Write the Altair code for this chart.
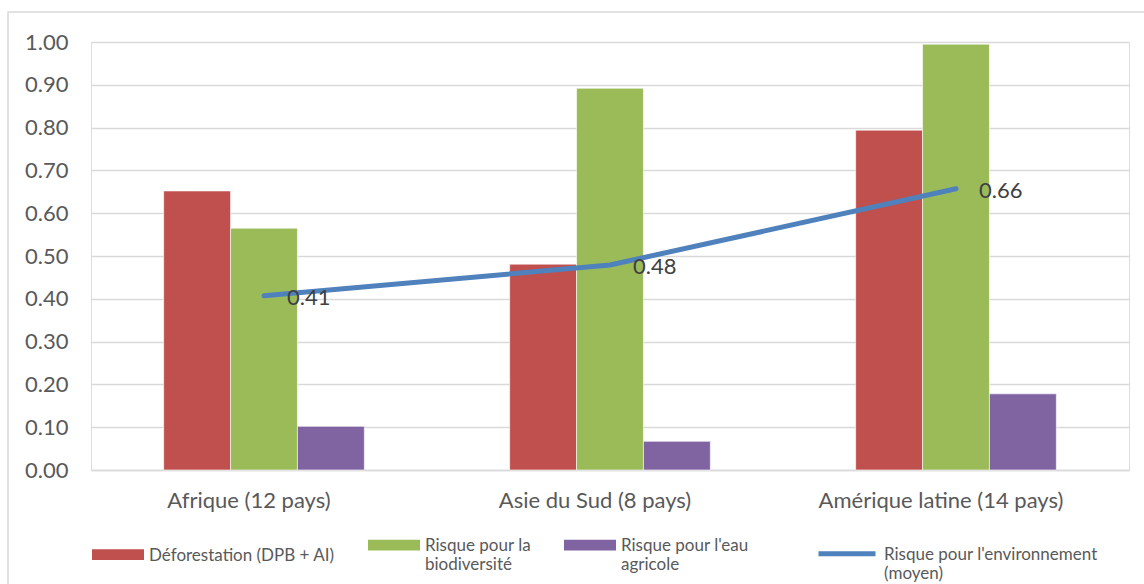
import json
import altair as alt
import pandas as pd

# ---- data ----
categories = ["Afrique (12 pays)", "Asie du Sud (8 pays)", "Amérique latine (14 pays)"]
series = ["Déforestation (DPB + AI)", "Risque pour la biodiversité", "Risque pour l'eau agricole"]
deforestation = [0.652, 0.481, 0.794]
biodiversite = [0.565, 0.892, 0.995]
eau_agricole = [0.102, 0.067, 0.178]
line_name = "Risque pour l'environnement (moyen)"
environnement = [0.407, 0.479, 0.657]

bar_colors = ["#C0504D", "#9BBB59", "#8064A2"]
line_color = "#4F81BD"

label_lines = {
    "Déforestation (DPB + AI)": ["Déforestation (DPB + AI)"],
    "Risque pour la biodiversité": ["Risque pour la", "biodiversité"],
    "Risque pour l'eau agricole": ["Risque pour l'eau", "agricole"],
    "Risque pour l'environnement (moyen)": ["Risque pour l'environnement", "(moyen)"],
}

rows = []
for s, vals in zip(series, [deforestation, biodiversite, eau_agricole]):
    for c, v in zip(categories, vals):
        rows.append({"categorie": c, "serie": s, "valeur": v})
bars_df = pd.DataFrame(rows)
line_df = pd.DataFrame({"categorie": categories, "valeur": environnement, "indicateur": [line_name] * 3})


def label_expr():
    expr = "datum.label"
    for k, v in label_lines.items():
        expr = f"datum.label == {json.dumps(k)} ? {json.dumps(v)} : ({expr})"
    return expr


FONT = "Lato"
GRID = "#d9d9d9"
TXT = "#595959"

x_enc = alt.X(
    "categorie:N",
    sort=categories,
    title=None,
    scale=alt.Scale(paddingInner=0.42, paddingOuter=0.21),
    axis=alt.Axis(
        labelAngle=0, labelFont=FONT, labelFontSize=22, labelColor=TXT,
        labelPadding=20, labelOffset=-15, labelLimit=500, ticks=False, domain=True,
        domainColor=GRID, domainWidth=1.5, grid=False,
    ),
)
y_enc = alt.Y(
    "valeur:Q",
    title=None,
    scale=alt.Scale(domain=[0, 1], nice=False, zero=True),
    axis=alt.Axis(
        values=[i / 10 for i in range(11)], format=".2f", labelFont=FONT,
        labelFontSize=22, labelColor=TXT, labelPadding=23, ticks=False,
        domain=False, grid=True, gridColor=GRID, gridWidth=1.5,
    ),
)

bars = alt.Chart(bars_df).mark_bar(stroke="white", strokeWidth=0.6).encode(
    x=x_enc,
    y=y_enc,
    xOffset=alt.XOffset("serie:N", sort=series, scale=alt.Scale(paddingInner=0, paddingOuter=0)),
    fill=alt.Fill(
        "serie:N", sort=series,
        scale=alt.Scale(domain=series, range=bar_colors),
        legend=alt.Legend(
            title=None, orient="none", legendX=1, legendY=483, direction="horizontal",
            columns=3, columnPadding=33, padding=0,
            symbolType="M-1,-0.43L1,-0.43L1,-0.02L-1,-0.02Z", symbolSize=2704,
            symbolStrokeWidth=0, labelFont=FONT, labelFontSize=17, labelColor=TXT,
            labelBaseline="alphabetic", labelOffset=5, labelExpr=label_expr(),
            labelLimit=400,
        ),
    ),
)

line = alt.Chart(line_df).mark_line(strokeWidth=5, strokeCap="round").encode(
    x=alt.X("categorie:N", sort=categories),
    y=alt.Y("valeur:Q"),
    stroke=alt.Stroke(
        "indicateur:N",
        scale=alt.Scale(domain=[line_name], range=[line_color]),
        legend=alt.Legend(
            title=None, orient="none", legendX=725, legendY=487, padding=0,
            symbolType="M-1,-0.22L1,-0.22", symbolSize=3249, symbolStrokeWidth=5,
            labelFont=FONT, labelFontSize=17, labelColor=TXT,
            labelBaseline="alphabetic", labelOffset=6, labelExpr=label_expr(),
            labelLimit=400,
        ),
    ),
)

labels = alt.Chart(line_df).mark_text(
    align="left", baseline="middle", dx=23, dy=2, font=FONT, fontSize=22, color="#404040"
).encode(
    x=alt.X("categorie:N", sort=categories),
    y=alt.Y("valeur:Q"),
    text=alt.Text("valeur:Q", format=".2f"),
)

frame = alt.Chart(alt.Data(values=[{}])).mark_rect(
    fill=None, stroke=GRID, strokeWidth=1.5
).encode(
    x=alt.value(-83), x2=alt.value(1080), y=alt.value(-30), y2=alt.value(570)
)

chart = alt.layer(frame, bars, line, labels).properties(
    width=1038,
    height=428,
    autosize=alt.AutoSizeParams(type="none"),
    padding={"left": 91, "top": 42, "right": 15, "bottom": 114},
).configure_view(stroke=None).configure(background="white")

chart.save("out.html", embed_options={"renderer": "svg", "actions": False})
